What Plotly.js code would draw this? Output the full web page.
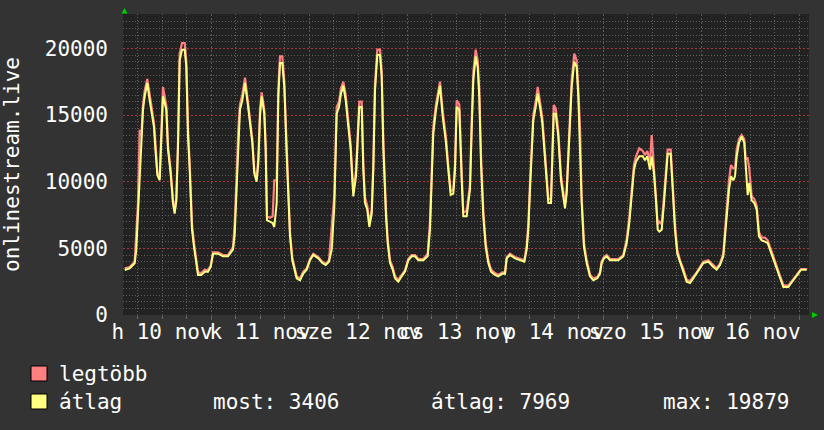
<!DOCTYPE html>
<html><head><meta charset="utf-8">
<script src="https://cdn.plot.ly/plotly-3.0.1.min.js"></script>
<style>html,body{margin:0;padding:0;background:#333333;}#chart{width:824px;height:430px;}</style>
</head><body><div id="chart"></div>
<script>
// hours since 2025-11-10 00:00
const hours = [2.87,4.09,5.31,5.71,6.12,6.53,6.94,7.35,7.76,8.40,
8.98,9.38,10.04,10.37,10.86,11.44,11.84,12.24,13.06,13.47,
14.12,14.69,15.10,15.51,15.92,16.33,16.90,17.56,17.96,18.37,
18.78,19.35,19.84,20.41,20.82,21.63,22.46,23.27,23.93,24.49,
25.71,26.94,28.16,29.39,29.80,30.29,30.69,31.10,31.67,32.33,
32.98,33.55,34.12,34.61,35.18,35.59,36.00,36.41,37.05,37.39,
37.71,38.45,39.10,39.50,40.09,40.49,40.90,41.46,41.96,42.53,
42.94,43.35,43.91,44.41,44.98,45.80,46.60,47.44,48.24,49.05,
50.28,51.26,52.09,52.90,53.56,54.20,54.78,55.35,55.84,56.40,
56.99,57.63,58.21,58.53,58.85,59.51,59.83,60.32,60.91,61.30,
61.71,62.28,62.77,63.36,63.75,64.16,64.73,65.39,65.80,66.20,
66.86,67.27,67.84,68.50,69.06,69.87,70.70,71.51,72.32,73.15,
73.96,74.77,75.99,77.07,77.63,78.05,78.44,79.10,79.67,80.08,
80.74,81.55,82.11,82.70,83.34,83.76,84.17,84.81,85.40,85.79,
86.62,87.43,87.84,88.24,88.82,89.31,89.70,90.12,90.69,91.27,
91.91,92.57,93.55,94.36,95.34,96.00,96.42,97.22,98.45,99.67,
100.73,101.31,101.71,102.12,102.54,102.93,103.52,104.01,104.57,105.14,
105.63,106.21,106.61,107.27,107.59,107.93,108.42,109.05,109.71,110.28,
110.69,111.10,111.50,111.91,112.33,112.96,113.55,113.95,114.37,114.78,
115.34,116.00,116.81,117.62,118.60,119.26,119.67,120.24,120.90,121.71,
122.52,123.75,124.97,125.81,126.44,127.03,127.59,128.08,128.89,129.73,
130.29,130.85,131.51,131.93,132.49,132.98,133.40,133.79,134.38,134.94,
135.43,135.84,136.58,137.07,137.63,138.19,138.86,139.52,140.49,141.31,
142.11,142.94,143.75,144.56,145.79,147.01,147.84,148.65,149.46,149.88,
150.29,150.86,151.35,151.91,152.33,152.74,153.31,153.96,154.60,154.94,
155.43,155.82,156.41,157.05,157.64,158.20,158.87,159.67,160.33,160.90,
161.46,162.12,162.93,163.59,164.16,165.38,166.36,167.44,168.51,169.32,
169.89];

const atlag = [3375,3500,3875,4900,7600,10400,12100,15400,16400,17400,
16100,15400,14100,12500,10500,10100,13400,16400,15400,12400,
10600,8400,7600,8600,12600,19100,19900,19900,18600,13400,
10900,6400,5100,3900,3000,3000,3250,3250,3600,4600,
4600,4400,4400,4900,6000,9600,13100,15400,16100,17400,
15900,14400,12900,10600,10000,11400,14900,16400,15100,12400,
7100,7000,6900,6600,8400,16400,18900,18900,17100,12100,
8900,5900,4100,3400,2750,2600,3100,3400,4100,4500,
4250,3900,3750,4000,4900,8100,15100,15600,16600,17200,
16100,14100,12400,10600,8900,10400,12600,15600,15600,10900,
8400,7900,6600,7600,10900,16800,19500,19500,17900,12600,
7400,5400,3900,3400,2750,2500,2900,3250,4100,4400,
4400,4100,4100,4400,6400,10900,13600,15400,16600,17200,
14900,12900,10900,9000,9100,10900,15600,15400,10100,7400,
7400,9400,13900,17600,19400,18600,16400,11400,7400,5100,
3900,3250,3000,2900,3100,3100,4250,4500,4250,4100,
4000,4900,6400,9400,11900,14600,15600,16600,15600,14400,
12400,10400,8400,8400,11900,15100,15100,13400,10100,8900,
8000,9100,11900,15100,17100,19000,18600,16400,12100,8400,
5100,3900,2900,2600,2750,3100,3900,4250,4400,4100,
4100,4100,4400,5400,6900,8900,10900,11500,11900,11900,
11600,11900,10900,11900,10600,8600,6400,6250,6400,8400,
10400,12100,12100,9400,6400,4600,3900,3400,2500,2400,
2750,3100,3500,3900,4000,3600,3400,3750,4400,5900,
7400,9400,10400,10100,10400,11900,12900,13400,12900,10900,
9000,9900,8600,8400,7900,5900,5600,5500,5400,4900,
4400,3900,3100,2500,2100,2100,2500,2900,3400,3400,
3400];

const legtobb = [3500,3600,4000,6400,8400,13900,13400,15800,16800,17700,
16500,15700,14400,13000,10700,10300,13600,17100,15700,12700,
10900,8600,7800,8800,13000,19600,20400,20400,19000,14000,
11400,6800,5400,4100,3200,3150,3400,3350,3700,4700,
4700,4500,4500,5100,6800,10500,13900,15800,16500,17800,
16200,14700,13200,10800,10200,11800,15400,16700,15400,12800,
7400,7300,7400,10100,10100,16900,19400,19400,17500,12600,
9300,6200,4300,3600,2900,2750,3250,3500,4200,4600,
4350,4000,3850,4100,6400,9000,15600,16000,17000,17500,
16500,14500,12800,11000,9300,10800,13000,16000,16000,11400,
8800,8200,6900,7900,11300,17300,19900,19900,18300,13100,
7800,5700,4100,3600,2900,2650,3000,3350,4200,4500,
4500,4200,4200,4600,7000,11500,14100,15800,17000,17500,
15300,13300,11200,9300,9400,11300,16100,15800,10600,7700,
7800,9800,14500,18200,19900,19100,16900,12000,7800,5400,
4100,3400,3150,3000,3200,3200,4350,4600,4350,4200,
4100,5200,6800,9900,12400,15000,16000,17100,16000,14800,
12800,10700,8700,8700,12400,15750,15500,13800,10500,9200,
8300,9400,12300,15600,17600,19600,19100,16900,14100,8800,
5400,4100,3050,2750,2850,3200,4000,4350,4500,4200,
4200,4200,4500,5700,7300,9300,11300,11900,12500,12300,
12000,12300,11500,13500,11200,9200,6800,7000,6800,8900,
10900,12400,12400,9800,6800,4900,4100,3600,2650,2550,
2850,3200,3600,4000,4100,3700,3500,3850,4600,6300,
7900,10100,11250,11000,11000,12400,13200,13500,13200,11700,
11750,11000,8900,8700,8200,6200,5800,5800,5600,5100,
4600,4100,3250,2650,2250,2200,2600,3000,3450,3450,
3450];

const dayTickHours = [12,36,60,84,108,132,156];
const dayTickLabels = ["h 10 nov","k 11 nov","sze 12 nov","cs 13 nov","p 14 nov","szo 15 nov","v 16 nov"];
const seriesNames = ["legtöbb","átlag"];
const statLabels = ["most: 3406","átlag: 7969","max: 19879"];
const yTitle = "onlinestream.live";

const base = Date.UTC(2025,10,10,0,0,0);
function toDate(h){ return new Date(base + h*3600000).toISOString().replace('T',' ').replace('Z',''); }
const xs = hours.map(toDate);

const FONT = "DejaVu Sans Mono";
const FS = 21;
const red = "rgb(255,128,128)";
const yel = "rgb(255,255,128)";

const traces = [
  {x: xs, y: legtobb, xaxis:'x', yaxis:'y', type:'scatter', mode:'lines', name: seriesNames[0], line:{color:red, width:2.2}, hoverinfo:'skip'},
  {x: xs, y: atlag, xaxis:'x2', yaxis:'y', type:'scatter', mode:'lines', name: seriesNames[1], line:{color:yel, width:2}, hoverinfo:'skip'}
];

const range = [toDate(2.45), toDate(170.45)];
const W = 824, H = 430, L = 123, R = 15, T = 14, B = 115;
const pw = W - L - R, ph = H - T - B;
const px = x => (x - L) / pw;
const py = y => (T + ph - y) / ph;

const layout = {
  width: W, height: H,
  margin: {l: L, r: R, t: T, b: B, pad: 0},
  paper_bgcolor: '#333333',
  plot_bgcolor: '#222222',
  showlegend: false,
  font: {family: FONT, size: FS, color: '#ffffff'},
  xaxis: {
    type: 'date', range: range, showticklabels: false,
    tickmode: 'linear', tick0: toDate(0), dtick: 86400000,
    showgrid: true, gridcolor: 'rgba(190,60,60,0.85)', griddash: '2px,2px', gridwidth: 1,
    ticks: 'outside', ticklen: 4, tickcolor: 'rgb(190,60,60)',
    minor: {tickmode: 'linear', tick0: toDate(0), dtick: 21600000, showgrid: true,
            gridcolor: 'rgba(110,110,110,0.8)', griddash: '1px,2px', gridwidth: 1,
            ticks: 'outside', ticklen: 3, tickcolor: 'rgb(110,110,110)'},
    zeroline: false, showline: false, fixedrange: true
  },
  xaxis2: {
    type: 'date', range: range, overlaying: 'x', side: 'bottom', anchor: 'y',
    tickmode: 'array', tickvals: dayTickHours.map(toDate), ticktext: dayTickLabels,
    tickangle: 0, showgrid: false, ticks: '', ticklabelstandoff: 2,
    tickfont: {family: FONT, size: FS, color: '#ffffff'}, zeroline: false, showline: false, fixedrange: true
  },
  yaxis: {
    range: [0, 22575], tickmode: 'linear', tick0: 0, dtick: 5000, tickformat: 'd',
    showgrid: true, gridcolor: 'rgba(190,60,60,0.85)', griddash: '2px,2px', gridwidth: 1,
    minor: {tickmode: 'linear', tick0: 0, dtick: 500, showgrid: true,
            gridcolor: 'rgba(110,110,110,0.8)', griddash: '1px,2px', gridwidth: 1},
    zeroline: false, showline: false, ticks: '', ticklabelstandoff: 14,
    tickfont: {family: FONT, size: FS, color: '#ffffff'},
    title: {text: yTitle, font: {family: FONT, size: FS, color: '#ffffff'}, standoff: 42},
    automargin: false, fixedrange: true
  },
  shapes: [
    {type:'rect', xref:'paper', yref:'paper', x0:px(31), x1:px(47), y0:py(381), y1:py(366), fillcolor:red, line:{color:'#000000', width:1}},
    {type:'rect', xref:'paper', yref:'paper', x0:px(31), x1:px(47), y0:py(409), y1:py(394), fillcolor:yel, line:{color:'#000000', width:1}},
    {type:'path', xref:'paper', yref:'paper', path:`M ${px(121.5)},${py(13.5)} L ${px(127.5)},${py(13.5)} L ${px(124.5)},${py(8)} Z`, fillcolor:'#00cc00', line:{width:0}},
    {type:'path', xref:'paper', yref:'paper', path:`M ${px(812)},${py(312)} L ${px(812)},${py(318)} L ${px(818)},${py(315)} Z`, fillcolor:'#00cc00', line:{width:0}}
  ],
  annotations: [
    {text: seriesNames[0], xref:'paper', yref:'paper', x:px(57), y:py(373.5), xanchor:'left', yanchor:'middle', showarrow:false, font:{family:FONT,size:FS,color:'#ffffff'}},
    {text: seriesNames[1], xref:'paper', yref:'paper', x:px(57), y:py(401.5), xanchor:'left', yanchor:'middle', showarrow:false, font:{family:FONT,size:FS,color:'#ffffff'}},
    {text: statLabels[0], xref:'paper', yref:'paper', x:px(211), y:py(401.5), xanchor:'left', yanchor:'middle', showarrow:false, font:{family:FONT,size:FS,color:'#ffffff'}},
    {text: statLabels[1], xref:'paper', yref:'paper', x:px(429), y:py(401.5), xanchor:'left', yanchor:'middle', showarrow:false, font:{family:FONT,size:FS,color:'#ffffff'}},
    {text: statLabels[2], xref:'paper', yref:'paper', x:px(661), y:py(401.5), xanchor:'left', yanchor:'middle', showarrow:false, font:{family:FONT,size:FS,color:'#ffffff'}}
  ]
};

Plotly.newPlot('chart', traces, layout, {staticPlot: true, displayModeBar: false});
</script></body></html>
